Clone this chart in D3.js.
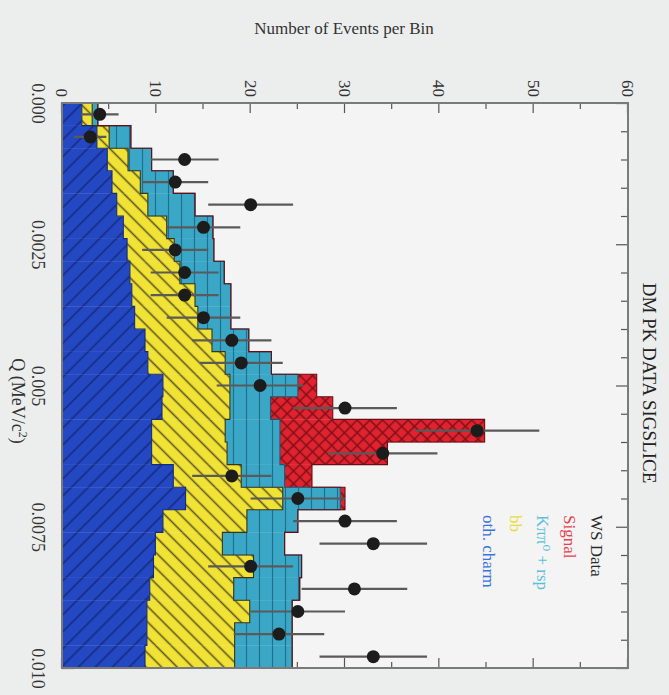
<!DOCTYPE html>
<html>
<head>
<meta charset="utf-8">
<script src="https://cdn.jsdelivr.net/npm/d3@7"></script>
<style>
  body { margin: 0; background: #eceeed; }
  svg { display: block; font-family: "Liberation Serif", "DejaVu Serif", serif; }
</style>
</head>
<body>
<svg id="chart" width="669" height="695"></svg>
<script>
// Q bin edges (MeV/c^2), 25 bins
const binEdges = [0.0000, 0.0004, 0.0008, 0.0012, 0.0016, 0.0020, 0.0024, 0.0028, 0.0032,
  0.0036, 0.0040, 0.0044, 0.0048, 0.0052, 0.0056, 0.0060, 0.0064, 0.0068, 0.0072,
  0.0076, 0.0080, 0.0084, 0.0088, 0.0092, 0.0096, 0.0100];

// WS data, events per bin, and its errors
const wsData = [4, 3, 13, 12, 20, 15, 12, 13, 13, 15, 18, 19, 21, 30, 44, 34, 18, 25, 30, 33, 20, 31, 25, 23, 33];
const wsErr  = [2.0, 1.7, 3.6, 3.5, 4.5, 3.9, 3.5, 3.6, 3.6, 3.9, 4.2, 4.4, 4.6, 5.5, 6.6, 5.8, 4.2, 5.0, 5.5, 5.7, 4.5, 5.6, 5.0, 4.8, 5.7];

// stacked MC components (bottom to top)
const othCharm = [2.1, 3.7, 4.8, 5.3, 5.8, 6.5, 6.9, 7.2, 7.4, 7.7, 8.8, 9.1, 10.7, 10.6, 9.5, 9.5, 11.8, 13.1, 10.7, 9.9, 9.7, 9.3, 9.0, 9.0, 8.8];
const bbBar    = [1.1, 1.3, 2.2, 3.0, 3.3, 4.6, 5.0, 5.3, 6.7, 6.7, 7.1, 8.2, 7.1, 7.2, 7.8, 8.0, 7.2, 10.3, 8.9, 7.1, 10.6, 8.9, 10.9, 9.3, 9.5];
const kppRsp   = [0.6, 2.3, 2.5, 3.5, 5.0, 4.9, 4.2, 4.7, 3.8, 3.5, 3.9, 4.9, 7.2, 4.3, 5.8, 5.6, 4.6, 6.1, 5.4, 6.6, 5.1, 7.0, 4.5, 6.1, 6.1];
const signal   = [0, 0, 0, 0, 0, 0, 0, 0, 0, 0, 0, 0, 2.0, 6.6, 21.7, 11.4, 2.9, 0.5, 0, 0, 0, 0, 0, 0, 0];

const countTicks = [0, 10, 20, 30, 40, 50, 60];
const countMinor = [5, 15, 25, 35, 45, 55];
const qTicks = [0, 0.0025, 0.005, 0.0075, 0.010];
const qTickLabels = ["0.000", "0.0025", "0.005", "0.0075", "0.010"];
const qMinor = [0.0005, 0.001, 0.0015, 0.002, 0.003, 0.0035, 0.004, 0.0045, 0.0055, 0.006,
  0.0065, 0.007, 0.008, 0.0085, 0.009, 0.0095];

const legendLabels = ["WS Data", "Signal", "Kππ⁰ + rsp", "bb", "oth. charm"];
const legendColors = ["#2a2a2a", "#e8404e", "#5cc0da", "#eadc3a", "#3a72e0"];

const svg = d3.select("#chart");
const defs = svg.append("defs");

// hatch patterns, defined in the chart's own (unrotated) frame
function hatch(id, bg, line, angle, gap, width, cross) {
  const p = defs.append("pattern")
    .attr("id", id)
    .attr("patternUnits", "userSpaceOnUse")
    .attr("width", gap).attr("height", gap)
    .attr("patternTransform", "rotate(" + angle + ")");
  p.append("rect").attr("width", gap).attr("height", gap).attr("fill", bg);
  p.append("line").attr("x1", 0).attr("x2", gap).attr("y1", gap / 2).attr("y2", gap / 2)
    .attr("stroke", line).attr("stroke-width", width);
  if (cross) {
    p.append("line").attr("y1", 0).attr("y2", gap).attr("x1", gap / 2).attr("x2", gap / 2)
      .attr("stroke", line).attr("stroke-width", width);
  }
}
hatch("hBlue", "#2447c2", "#18328f", 45, 12, 2, false);
hatch("hYellow", "#f1e335", "#5e5620", -45, 11, 1.6, false);
hatch("hTeal", "#3ba7c7", "#1f6e8a", 0, 13, 1.2, false);
hatch("hRed", "#e2232f", "#7c1018", 45, 9, 1.5, true);

// the original chart is drawn upright, then turned a quarter turn clockwise
const g = svg.append("g").attr("transform", "translate(669,0) rotate(90)");

const pLeft = 103, pRight = 668, pTop = 41, pBottom = 607;
const q = d3.scaleLinear().domain([0, 0.010]).range([pLeft, pRight]);
const y = d3.scaleLinear().domain([0, 60]).range([pBottom, pTop]);

g.append("rect")
  .attr("x", pLeft).attr("y", pTop)
  .attr("width", pRight - pLeft).attr("height", pBottom - pTop)
  .attr("fill", "#f3f4f3");

// axes with inward ticks
function styleAxis(sel) {
  sel.select(".domain").remove();
  sel.selectAll("line").attr("stroke", "#555").attr("stroke-width", 1.2);
  sel.selectAll("text").attr("font-family", "Liberation Serif, serif").attr("fill", "#333");
}

g.append("g").attr("transform", "translate(0," + pBottom + ")")
  .call(d3.axisBottom(q).tickValues(qTicks).tickSize(-12).tickPadding(17)
    .tickFormat((d, i) => qTickLabels[i]))
  .call(styleAxis)
  .selectAll("text").attr("font-size", 18);
g.append("g").attr("transform", "translate(0," + pBottom + ")")
  .call(d3.axisBottom(q).tickValues(qMinor).tickSize(-7).tickFormat(""))
  .call(styleAxis);
g.append("g").attr("transform", "translate(0," + pTop + ")")
  .call(d3.axisTop(q).tickValues(qTicks).tickSize(-12).tickFormat(""))
  .call(styleAxis);
g.append("g").attr("transform", "translate(0," + pTop + ")")
  .call(d3.axisTop(q).tickValues(qMinor).tickSize(-7).tickFormat(""))
  .call(styleAxis);

g.append("g").attr("transform", "translate(" + pLeft + ",0)")
  .call(d3.axisLeft(y).tickValues(countTicks).tickSize(-10).tickPadding(6))
  .call(styleAxis)
  .selectAll("text").attr("font-size", 17);
g.append("g").attr("transform", "translate(" + pLeft + ",0)")
  .call(d3.axisLeft(y).tickValues(countMinor).tickSize(-6).tickFormat(""))
  .call(styleAxis);
g.append("g").attr("transform", "translate(" + pRight + ",0)")
  .call(d3.axisRight(y).tickValues(countTicks).tickSize(-10).tickFormat(""))
  .call(styleAxis);
g.append("g").attr("transform", "translate(" + pRight + ",0)")
  .call(d3.axisRight(y).tickValues(countMinor).tickSize(-6).tickFormat(""))
  .call(styleAxis);

// stacked histogram
const rows = wsData.map((d, i) => ({
  lo: binEdges[i], hi: binEdges[i + 1],
  oth: othCharm[i], bb: bbBar[i], kpp: kppRsp[i], sig: signal[i]
}));
const keys = ["oth", "bb", "kpp", "sig"];
const fills = { oth: "url(#hBlue)", bb: "url(#hYellow)", kpp: "url(#hTeal)", sig: "url(#hRed)" };
const edges = { oth: "#142a7a", bb: "#3a3414", kpp: "#1b5a70", sig: "#6a0c14" };
const layers = d3.stack().keys(keys)(rows);

layers.forEach(layer => {
  const key = layer.key;
  g.append("g").selectAll("rect")
    .data(layer.filter(s => s[1] > s[0]))
    .join("rect")
      .attr("x", s => q(s.data.lo))
      .attr("width", s => q(s.data.hi) - q(s.data.lo) + 0.3)
      .attr("y", s => y(s[1]))
      .attr("height", s => y(s[0]) - y(s[1]))
      .attr("fill", fills[key]);
});

// step outlines on top of each layer
layers.forEach(layer => {
  const pts = [];
  layer.forEach(s => {
    pts.push([q(s.data.lo), y(s[1])]);
    pts.push([q(s.data.hi), y(s[1])]);
  });
  g.append("path")
    .attr("d", d3.line()(pts))
    .attr("fill", "none")
    .attr("stroke", edges[layer.key])
    .attr("stroke-width", 1.1);
});

// frame
g.append("rect")
  .attr("x", pLeft).attr("y", pTop)
  .attr("width", pRight - pLeft).attr("height", pBottom - pTop)
  .attr("fill", "none").attr("stroke", "#7a7a7a").attr("stroke-width", 2);

// WS data points with error bars
const mid = i => q((binEdges[i] + binEdges[i + 1]) / 2);
g.append("g").selectAll("line")
  .data(wsData)
  .join("line")
    .attr("x1", (d, i) => mid(i)).attr("x2", (d, i) => mid(i))
    .attr("y1", (d, i) => y(d - wsErr[i])).attr("y2", (d, i) => y(d + wsErr[i]))
    .attr("stroke", "#5a5a5a").attr("stroke-width", 2.2);
g.append("g").selectAll("circle")
  .data(wsData)
  .join("circle")
    .attr("cx", (d, i) => mid(i))
    .attr("cy", d => y(d))
    .attr("r", 6.5)
    .attr("fill", "#1c1c1c");

// titles
g.append("text")
  .attr("x", 383).attr("y", 26)
  .attr("text-anchor", "middle")
  .attr("font-size", 19).attr("fill", "#222")
  .text("DM PK DATA SIGSLICE");

g.append("text")
  .attr("transform", "translate(34,325) rotate(-90)")
  .attr("text-anchor", "middle")
  .attr("font-size", 17).attr("fill", "#333")
  .text("Number of Events per Bin");

const qLab = g.append("text")
  .attr("x", 401).attr("y", 657)
  .attr("text-anchor", "middle")
  .attr("font-size", 18).attr("fill", "#333");
qLab.append("tspan").text("Q (MeV/c");
qLab.append("tspan").attr("font-size", 12).attr("dy", -7).text("2");
qLab.append("tspan").attr("dy", 7).text(")");

// legend
g.append("g").selectAll("text")
  .data(legendLabels)
  .join("text")
    .attr("x", 515)
    .attr("y", (d, i) => 78 + i * 27)
    .attr("font-size", 17)
    .attr("fill", (d, i) => legendColors[i])
    .text(d => d);
</script>
</body>
</html>
